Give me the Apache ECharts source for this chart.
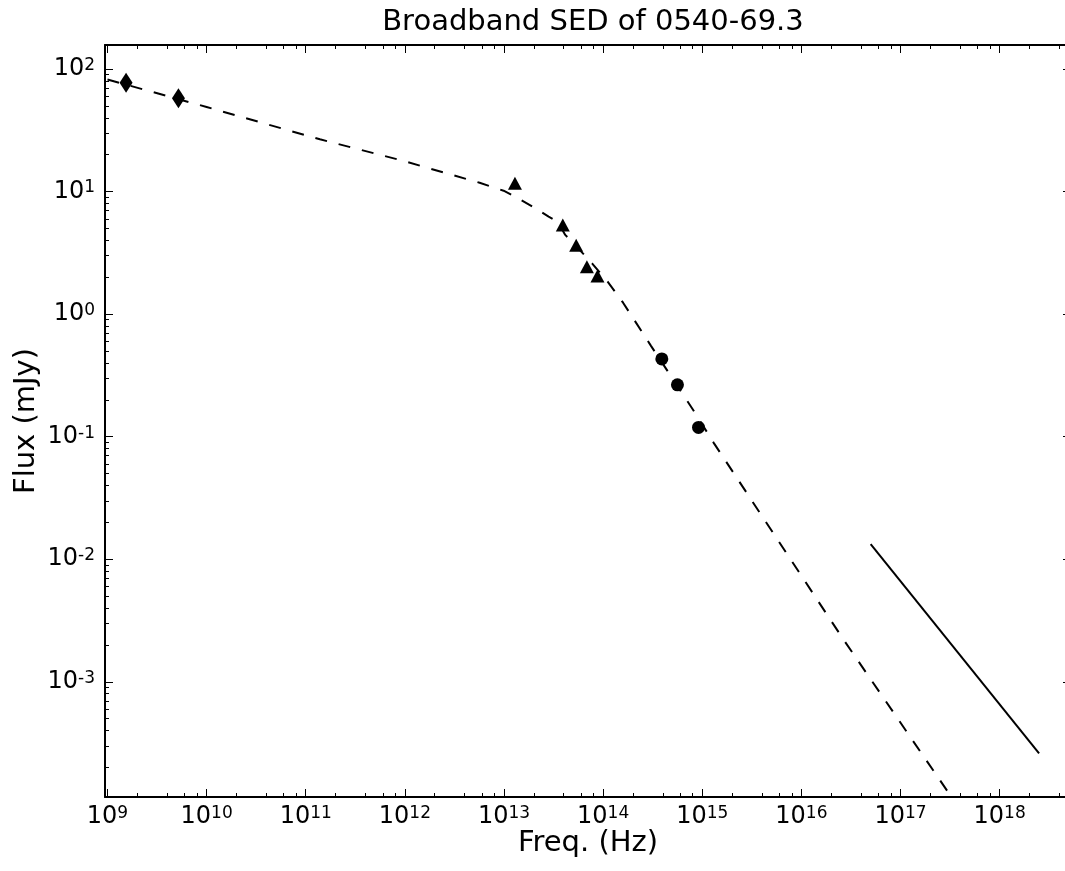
<!DOCTYPE html>
<html>
<head>
<meta charset="utf-8">
<script src="https://cdn.jsdelivr.net/npm/echarts@6/dist/echarts.min.js"></script>
<style>
  html, body { margin: 0; padding: 0; background: #fff; }
  #sed { width: 1065px; height: 871px; }
</style>
</head>
<body>
<div id="sed"></div>
<script>
// radio points (diamonds)
var radioFreq = [1.54e9, 5.2e9];
var radioFlux = [77.3, 57.7];
// infrared points (triangles)
var irFreq = [1.29e13, 3.92e13, 5.35e13, 6.86e13, 8.77e13];
var irFlux = [11.7, 5.34, 3.65, 2.44, 2.05];
// optical points (circles)
var optFreq = [3.91e14, 5.62e14, 9.17e14];
var optFlux = [0.431, 0.265, 0.119];
// dashed model curve
var modelFreq = [1e9, 1e10, 1.39e11, 8.95e11, 5.68e12, 9.91e12, 1.30e13, 2.15e13, 2.82e13, 3.48e13,
  4.15e13, 5.46e13, 7.73e13, 1.11e14, 1.59e14, 3.04e14, 8.07e14, 1.30e15, 2.67e16, 3.06e17, 3.98e17];
var modelFlux = [82.2, 49.0, 26.7, 18.1, 11.8, 10.16, 9.08, 7.18, 6.24, 5.68,
  4.43, 3.52, 2.60, 1.84, 1.24, 0.551, 0.166, 0.0895, 2.2e-3, 1.24e-4, 9.1e-5];
// x-ray power law (solid)
var xrayFreq = [5.0e16, 2.5e18];
var xrayFlux = [0.0133, 2.6e-4];

var xMajor = [1e9, 1e10, 1e11, 1e12, 1e13, 1e14, 1e15, 1e16, 1e17, 1e18];
var yMajor = [1e-3, 1e-2, 1e-1, 1e0, 1e1, 1e2];
var xSubs = [2, 4, 6, 8];
var ySubs = [2, 3, 4, 5, 6, 7, 8, 9];

var xMin = Math.pow(10, 8.975), xMax = Math.pow(10, 18.72);
var yMin = Math.pow(10, -3.94), yMax = Math.pow(10, 2.196);

function minors(majors, subs) {
  var out = [];
  var first = majors[0] / 10;
  [first].concat(majors).forEach(function (m) {
    subs.forEach(function (s) { out.push(m * s); });
  });
  return out;
}

function pairs(xs, ys) {
  return xs.map(function (x, i) { return [x, ys[i]]; });
}

var font = 'DejaVu Sans';
var labelRich = {
  b: { fontSize: 24, fontFamily: font, color: '#000' },
  s: { fontSize: 17, fontFamily: font, color: '#000', verticalAlign: 'top', lineHeight: 18 }
};
function powLabel(v) {
  var e = Math.round(Math.log10(v));
  return '{b|10}{s|' + e + '}';
}

function logAxis(isX, pos, major, showLabel, min, max, ticks, len, name) {
  var a = {
    type: 'log',
    position: pos,
    min: min,
    max: max,
    axisLine: { show: major, onZero: false, lineStyle: { color: '#000', width: 2 } },
    axisTick: { show: true, inside: true, length: len, customValues: ticks, lineStyle: { color: '#000', width: 1 } },
    axisLabel: { show: showLabel, customValues: ticks, formatter: powLabel, rich: labelRich, margin: isX ? 8 : 10 },
    splitLine: { show: false },
    minorTick: { show: false }
  };
  if (name) {
    a.name = name;
    a.nameLocation = 'middle';
    a.nameMoveOverlap = false;
    a.nameTextStyle = { fontSize: 29, fontFamily: font, color: '#000' };
    a.nameGap = isX ? 32 : 64;
  }
  return a;
}

var chart = echarts.init(document.getElementById('sed'));
chart.setOption({
  animation: false,
  backgroundColor: '#fff',
  title: {
    text: 'Broadband SED of 0540-69.3',
    left: 588,
    textAlign: 'center',
    top: 3,
    textStyle: { fontSize: 29, fontWeight: 'normal', fontFamily: font, color: '#000' }
  },
  grid: { left: 105, right: -6, top: 45, bottom: 74, containLabel: false, outerBoundsMode: 'none' },
  xAxis: [
    logAxis(true, 'bottom', true, true, xMin, xMax, xMajor, 8, 'Freq. (Hz)'),
    logAxis(true, 'bottom', false, false, xMin, xMax, minors(xMajor, xSubs), 4),
    logAxis(true, 'top', true, false, xMin, xMax, xMajor, 8),
    logAxis(true, 'top', false, false, xMin, xMax, minors(xMajor, xSubs), 4)
  ],
  yAxis: [
    logAxis(false, 'left', true, true, yMin, yMax, yMajor, 8, 'Flux (mJy)'),
    logAxis(false, 'left', false, false, yMin, yMax, minors(yMajor, ySubs), 4),
    logAxis(false, 'right', true, false, yMin, yMax, yMajor, 8),
    logAxis(false, 'right', false, false, yMin, yMax, minors(yMajor, ySubs), 4)
  ],
  series: [
    {
      name: 'model',
      type: 'line',
      data: pairs(modelFreq, modelFlux),
      showSymbol: false,
      symbol: 'none',
      clip: true,
      lineStyle: { color: '#000', width: 2, type: [12, 12] },
      z: 2
    },
    {
      name: 'xray',
      type: 'line',
      data: pairs(xrayFreq, xrayFlux),
      symbol: 'none',
      lineStyle: { color: '#000', width: 2 },
      z: 2
    },
    {
      name: 'radio',
      type: 'scatter',
      data: pairs(radioFreq, radioFlux),
      symbol: 'diamond',
      symbolSize: [13, 20],
      itemStyle: { color: '#000', opacity: 1 },
      z: 3
    },
    {
      name: 'ir',
      type: 'scatter',
      data: pairs(irFreq, irFlux),
      symbol: 'triangle',
      symbolSize: [14, 13],
      itemStyle: { color: '#000', opacity: 1 },
      z: 3
    },
    {
      name: 'optical',
      type: 'scatter',
      data: pairs(optFreq, optFlux),
      symbol: 'circle',
      symbolSize: 13,
      itemStyle: { color: '#000', opacity: 1 },
      z: 3
    }
  ]
});
</script>
</body>
</html>
